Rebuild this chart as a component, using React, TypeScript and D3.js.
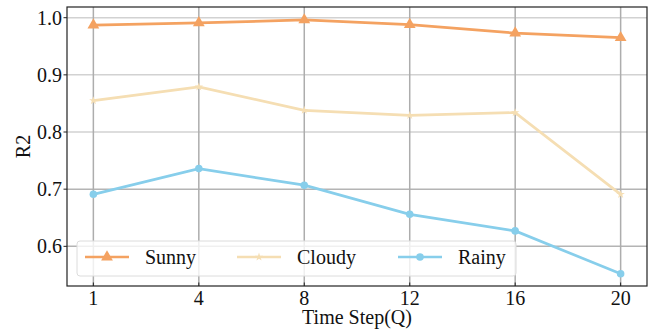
import React, { useEffect, useRef } from 'react';
import * as d3 from 'd3';

const steps = ['1', '4', '8', '12', '16', '20'];
const yTicks = [0.6, 0.7, 0.8, 0.9, 1.0];

const sunny = [0.987, 0.991, 0.996, 0.988, 0.973, 0.965];
const cloudy = [0.855, 0.879, 0.838, 0.829, 0.834, 0.691];
const rainy = [0.691, 0.736, 0.707, 0.656, 0.627, 0.552];

const seriesNames = ['Sunny', 'Cloudy', 'Rainy'];
const seriesColors = ['#F4A261', '#F5DEB3', '#87CEEB'];
const seriesSymbols = [d3.symbolTriangle, d3.symbolStar, d3.symbolCircle];
const seriesSizes = [60, 22, 45];

const App: React.FC = () => {
  const svgRef = useRef<SVGSVGElement>(null);

  useEffect(() => {
    if (!svgRef.current) return;
    const svg = d3.select(svgRef.current);
    svg.selectAll('*').remove();

    const left = 67, right = 647, top = 7, bottom = 286;
    const font = "'Liberation Serif', serif";
    const fs = '20px';

    const x = d3.scaleLinear().domain([-0.25, steps.length - 0.75]).range([left, right]);
    const y = d3.scaleLinear().domain([0.5306, 1.0187]).range([bottom, top]);

    // grid
    svg.append('g')
      .selectAll('line')
      .data(yTicks)
      .join('line')
      .attr('x1', left).attr('x2', right)
      .attr('y1', d => y(d)).attr('y2', d => y(d))
      .attr('stroke', d => (d < 0.75 ? '#b4b4b4' : '#d2d2d2'))
      .attr('stroke-width', 1.5);

    svg.append('g')
      .selectAll('line')
      .data(steps)
      .join('line')
      .attr('x1', (_, i) => x(i)).attr('x2', (_, i) => x(i))
      .attr('y1', top).attr('y2', bottom)
      .attr('stroke', '#adadad')
      .attr('stroke-width', 1.5);

    // frame
    svg.append('rect')
      .attr('x', left).attr('y', top)
      .attr('width', right - left).attr('height', bottom - top)
      .attr('fill', 'none').attr('stroke', '#222').attr('stroke-width', 1.2);

    // ticks
    yTicks.forEach(t => {
      svg.append('line')
        .attr('x1', left - 3.5).attr('x2', left)
        .attr('y1', y(t)).attr('y2', y(t))
        .attr('stroke', '#222').attr('stroke-width', 1);
      svg.append('text')
        .attr('x', left - 5).attr('y', y(t))
        .attr('dy', '0.35em')
        .attr('text-anchor', 'end')
        .style('font-family', font).style('font-size', fs)
        .attr('fill', '#111')
        .text(t.toFixed(1));
    });

    steps.forEach((s, i) => {
      svg.append('line')
        .attr('x1', x(i)).attr('x2', x(i))
        .attr('y1', bottom - 3.5).attr('y2', bottom)
        .attr('stroke', '#222').attr('stroke-width', 1);
      svg.append('text')
        .attr('x', x(i)).attr('y', 305)
        .attr('text-anchor', 'middle')
        .style('font-family', font).style('font-size', fs)
        .attr('fill', '#111')
        .text(s);
    });

    svg.append('text')
      .attr('x', (left + right) / 2).attr('y', 324)
      .attr('text-anchor', 'middle')
      .style('font-family', font).style('font-size', fs)
      .attr('fill', '#111')
      .text('Time Step(Q)');

    svg.append('text')
      .attr('transform', `translate(30,${(top + bottom) / 2}) rotate(-90)`)
      .attr('text-anchor', 'middle')
      .style('font-family', font).style('font-size', fs)
      .attr('fill', '#111')
      .text('R2');

    // lines
    const line = d3.line<number>().x((_, i) => x(i)).y(d => y(d));
    [sunny, cloudy, rainy].forEach((vals, k) => {
      svg.append('path')
        .datum(vals)
        .attr('d', line)
        .attr('fill', 'none')
        .attr('stroke', seriesColors[k])
        .attr('stroke-width', 2.7);
      svg.append('g')
        .selectAll('path')
        .data(vals)
        .join('path')
        .attr('transform', (d, i) => `translate(${x(i)},${y(d)})`)
        .attr('d', d3.symbol().type(seriesSymbols[k]).size(seriesSizes[k])())
        .attr('fill', seriesColors[k]);
    });

    // legend
    const lg = svg.append('g');
    lg.append('rect')
      .attr('x', 77).attr('y', 241)
      .attr('width', 439).attr('height', 35)
      .attr('rx', 3)
      .attr('fill', 'rgba(255,255,255,0.8)')
      .attr('stroke', '#dcdcdc').attr('stroke-width', 1);
    const itemX = [85, 237, 398];
    seriesNames.forEach((name, k) => {
      const lx = itemX[k];
      const ly = 257;
      lg.append('line')
        .attr('x1', lx).attr('x2', lx + 44)
        .attr('y1', ly).attr('y2', ly)
        .attr('stroke', seriesColors[k]).attr('stroke-width', 2.7);
      lg.append('path')
        .attr('transform', `translate(${lx + 22},${ly})`)
        .attr('d', d3.symbol().type(seriesSymbols[k]).size(seriesSizes[k])())
        .attr('fill', seriesColors[k]);
      lg.append('text')
        .attr('x', lx + 60).attr('y', ly)
        .attr('dy', '0.35em')
        .style('font-family', font).style('font-size', fs)
        .attr('fill', '#111')
        .text(name);
    });
  }, []);

  return (
    <svg ref={svgRef} width={655} height={336} style={{ position: 'absolute', left: 0, top: 0 }} />
  );
};

export default App;
